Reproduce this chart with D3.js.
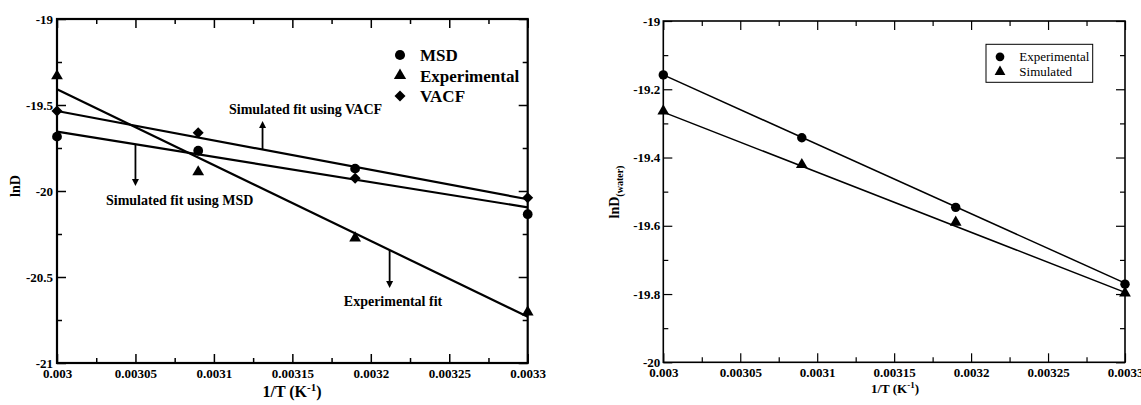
<!DOCTYPE html>
<html>
<head>
<meta charset="utf-8">
<script src="https://cdn.jsdelivr.net/npm/d3@7"></script>
<style>
body { margin:0; background:#fff; }
text { font-family: "Liberation Serif", "Times New Roman", Times, serif; }
</style>
</head>
<body>
<div id="chart"></div>
<script>
// ---- data ----
var invT = [0.003, 0.00309, 0.00319, 0.0033];

// left panel
var msd = [-19.684, -19.766, -19.870, -20.135];
var experimental = [-19.337, -19.895, -20.280, -20.710];
var vacf = [-19.535, -19.661, -19.926, -20.039];
var fitX = [0.003, 0.0033];
var fitExperimental = [-19.409, -20.731];
var fitVacf = [-19.535, -20.048];
var fitMsd = [-19.655, -20.095];

var leftXTicks = [0.003, 0.00305, 0.0031, 0.00315, 0.0032, 0.00325, 0.0033];
var leftYTicks = [-19, -19.5, -20, -20.5, -21];

// right panel
var waterExp = [-19.158, -19.342, -19.546, -19.771];
var waterSim = [-19.267, -19.424, -19.593, -19.800];
var fitWaterExp = [-19.158, -19.768];
var fitWaterSim = [-19.267, -19.795];

var rightXTicks = [0.003, 0.00305, 0.0031, 0.00315, 0.0032, 0.00325, 0.0033];
var rightYTicks = [-19, -19.2, -19.4, -19.6, -19.8, -20];

var svg = d3.select("#chart").append("svg")
	.attr("width", 1141)
	.attr("height", 405);

function frame(g, x, y, opt) {
	var w = x.range()[1], h = y.range()[0];
	var minorX = d3.range(0, opt.xTicks.length - 1).map(function(i){
		return (opt.xTicks[i] + opt.xTicks[i+1]) / 2; });
	var minorY = d3.range(0, opt.yTicks.length - 1).map(function(i){
		return (opt.yTicks[i] + opt.yTicks[i+1]) / 2; });

	function axis(fn, scale, vals, size, fmt, pad) {
		return fn(scale).tickValues(vals).tickSize(-size).tickPadding(pad)
			.tickFormat(fmt);
	}
	var none = function(){ return ""; };
	var parts = [
		[d3.axisBottom, x, "translate(0," + h + ")", opt.xTicks, opt.xFormat],
		[d3.axisTop, x, "translate(0,0)", opt.xTicks, none],
		[d3.axisLeft, y, "translate(0,0)", opt.yTicks, opt.yFormat],
		[d3.axisRight, y, "translate(" + w + ",0)", opt.yTicks, none]
	];
	parts.forEach(function(p){
		var isX = p[1] === x;
		var minor = isX ? minorX : minorY;
		g.append("g").attr("transform", p[2])
			.call(axis(p[0], p[1], minor, opt.minor, none, 0))
			.call(function(s){ s.select(".domain").remove(); })
			.selectAll("line").attr("stroke-width", opt.tickW);
		var a = g.append("g").attr("transform", p[2])
			.attr("class", "axis")
			.call(axis(p[0], p[1], p[3], opt.major, p[4], isX ? opt.xPad : opt.yPad));
		a.select(".domain").remove();
		a.selectAll("line").attr("stroke-width", opt.tickW);
		a.selectAll("text")
			.attr("font-weight", "bold")
			.attr("font-size", opt.tickFont)
			.attr("fill", "#000");
	});
	g.append("rect")
		.attr("width", w).attr("height", h)
		.attr("fill", "none").attr("stroke", "#000")
		.attr("stroke-width", opt.frameW);
}

function marker(g, type, cx, cy, s) {
	var p;
	if (type === "diamond") {
		// square turned 45 degrees, half-diagonal s
		p = g.append("path").attr("d", "M0," + (-s) + "L" + s + ",0L0," + s + "L" + (-s) + ",0Z");
	} else {
		var sym = type === "circle" ? d3.symbolCircle : d3.symbolTriangle;
		p = g.append("path").attr("d", d3.symbol().type(sym).size(s)());
	}
	p.attr("transform", "translate(" + cx + "," + cy + ")")
		.attr("fill", "#000");
}

// ================= LEFT PANEL =================
var gl = svg.append("g").attr("transform", "translate(57,19)");
var xl = d3.scaleLinear().domain([0.003, 0.0033]).range([0, 470.7]);
var yl = d3.scaleLinear().domain([-21, -19]).range([344, 0]);

frame(gl, xl, yl, {
	xTicks: leftXTicks, yTicks: leftYTicks,
	xFormat: function(d){ return String(+d.toFixed(5)); },
	yFormat: function(d){ return String(d); },
	major: 9, minor: 5, tickW: 1.5, frameW: 2.2,
	xPad: 6, yPad: 4, tickFont: "13px"
});

var line = d3.line()
	.x(function(d){ return d[0]; })
	.y(function(d){ return d[1]; });

[fitExperimental, fitVacf, fitMsd].forEach(function(f){
	gl.append("path")
		.attr("d", line(fitX.map(function(v, i){ return [xl(v), yl(f[i])]; })))
		.attr("fill", "none").attr("stroke", "#000").attr("stroke-width", 2.2);
});

invT.forEach(function(v, i){
	marker(gl, "circle", xl(v), yl(msd[i]), 75);
	marker(gl, "triangle", xl(v), yl(experimental[i]) - 1, 60);
	marker(gl, "diamond", xl(v), yl(vacf[i]), 5.5);
});

// annotations: arrow from fit line to label
var annotations = [
	{ fit: fitVacf, at: 0.003131, to: 121, label: "Simulated fit using VACF", tx: 229, ty: 114, anchor: "start" },
	{ fit: fitMsd, at: 0.00305, to: 186, label: "Simulated fit using MSD", tx: 106, ty: 205, anchor: "start" },
	{ fit: fitExperimental, at: 0.003212, to: 288, label: "Experimental fit", tx: 393, ty: 306, anchor: "middle" }
];
annotations.forEach(function(a){
	var t = (a.at - fitX[0]) / (fitX[1] - fitX[0]);
	var yv = a.fit[0] + t * (a.fit[1] - a.fit[0]);
	var x0 = xl(a.at), y0 = yl(yv), y1 = a.to - 19;
	var dir = y1 < y0 ? -1 : 1;
	gl.append("line")
		.attr("x1", x0).attr("x2", x0)
		.attr("y1", y0).attr("y2", y1 - dir * 6)
		.attr("stroke", "#000").attr("stroke-width", 1.8);
	gl.append("path")
		.attr("d", "M" + (x0 - 3.5) + "," + (y1 - dir * 7) + "L" + (x0 + 3.5) + "," + (y1 - dir * 7) + "L" + x0 + "," + y1 + "Z")
		.attr("fill", "#000");
	svg.append("text")
		.attr("x", a.tx).attr("y", a.ty)
		.attr("text-anchor", a.anchor)
		.attr("font-weight", "bold").attr("font-size", "14px")
		.text(a.label);
});

// legend
var leftLegend = [["circle", "MSD"], ["triangle", "Experimental"], ["diamond", "VACF"]];
leftLegend.forEach(function(d, i){
	var cy = 55 + i * 20.5;
	marker(svg, d[0], 400, cy, d[0] === "circle" ? 80 : d[0] === "triangle" ? 65 : 5.5);
	svg.append("text")
		.attr("x", 420).attr("y", cy + 6)
		.attr("font-weight", "bold").attr("font-size", "17px")
		.text(d[1]);
});

// axis titles
svg.append("text")
	.attr("transform", "translate(20,186) rotate(-90)")
	.attr("text-anchor", "middle")
	.attr("font-weight", "bold").attr("font-size", "14px")
	.text("lnD");

var xt = svg.append("text")
	.attr("x", 292).attr("y", 397)
	.attr("text-anchor", "middle")
	.attr("font-weight", "bold").attr("font-size", "16px");
xt.append("tspan").text("1/T (K");
xt.append("tspan").attr("dy", -6).attr("font-size", "11px").text("-1");
xt.append("tspan").attr("dy", 6).text(")");

// ================= RIGHT PANEL =================
var gr = svg.append("g").attr("transform", "translate(663.3,21)");
var xr = d3.scaleLinear().domain([0.003, 0.0033]).range([0, 461.7]);
var yr = d3.scaleLinear().domain([-20, -19]).range([341.3, 0]);

frame(gr, xr, yr, {
	xTicks: rightXTicks, yTicks: rightYTicks,
	xFormat: function(d){ return String(+d.toFixed(5)); },
	yFormat: function(d){ return String(+d.toFixed(1)); },
	major: 9, minor: 5, tickW: 1.2, frameW: 1.6,
	xPad: 5, yPad: 3, tickFont: "13px"
});

[fitWaterExp, fitWaterSim].forEach(function(f){
	gr.append("path")
		.attr("d", line(fitX.map(function(v, i){ return [xr(v), yr(f[i])]; })))
		.attr("fill", "none").attr("stroke", "#000").attr("stroke-width", 1.5);
});

invT.forEach(function(v, i){
	marker(gr, "circle", xr(v), yr(waterExp[i]), 70);
	marker(gr, "triangle", xr(v), yr(waterSim[i]) - 1, 60);
});

// legend box
var rl = svg.append("g").attr("transform", "translate(986,44.3)");
rl.append("rect").attr("width", 106.7).attr("height", 38)
	.attr("fill", "#fff").attr("stroke", "#000").attr("stroke-width", 1);
var rightLegend = [["circle", "Experimental"], ["triangle", "Simulated"]];
rightLegend.forEach(function(d, i){
	var cy = 12.5 + i * 15;
	marker(rl, d[0], 14, cy, d[0] === "circle" ? 60 : 50);
	rl.append("text")
		.attr("x", 33.3).attr("y", cy + 4.5)
		.attr("font-size", "13px")
		.text(d[1]);
});

// axis titles
var yt = svg.append("text")
	.attr("transform", "translate(619,192) rotate(-90)")
	.attr("text-anchor", "middle")
	.attr("font-weight", "bold").attr("font-size", "14px");
yt.append("tspan").text("lnD");
yt.append("tspan").attr("dy", 4).attr("font-size", "10px").text("(water)");

var xt2 = svg.append("text")
	.attr("x", 895).attr("y", 393)
	.attr("text-anchor", "middle")
	.attr("font-weight", "bold").attr("font-size", "13px");
xt2.append("tspan").text("1/T (K");
xt2.append("tspan").attr("dy", -5).attr("font-size", "9px").text("-1");
xt2.append("tspan").attr("dy", 5).text(")");
</script>
</body>
</html>
